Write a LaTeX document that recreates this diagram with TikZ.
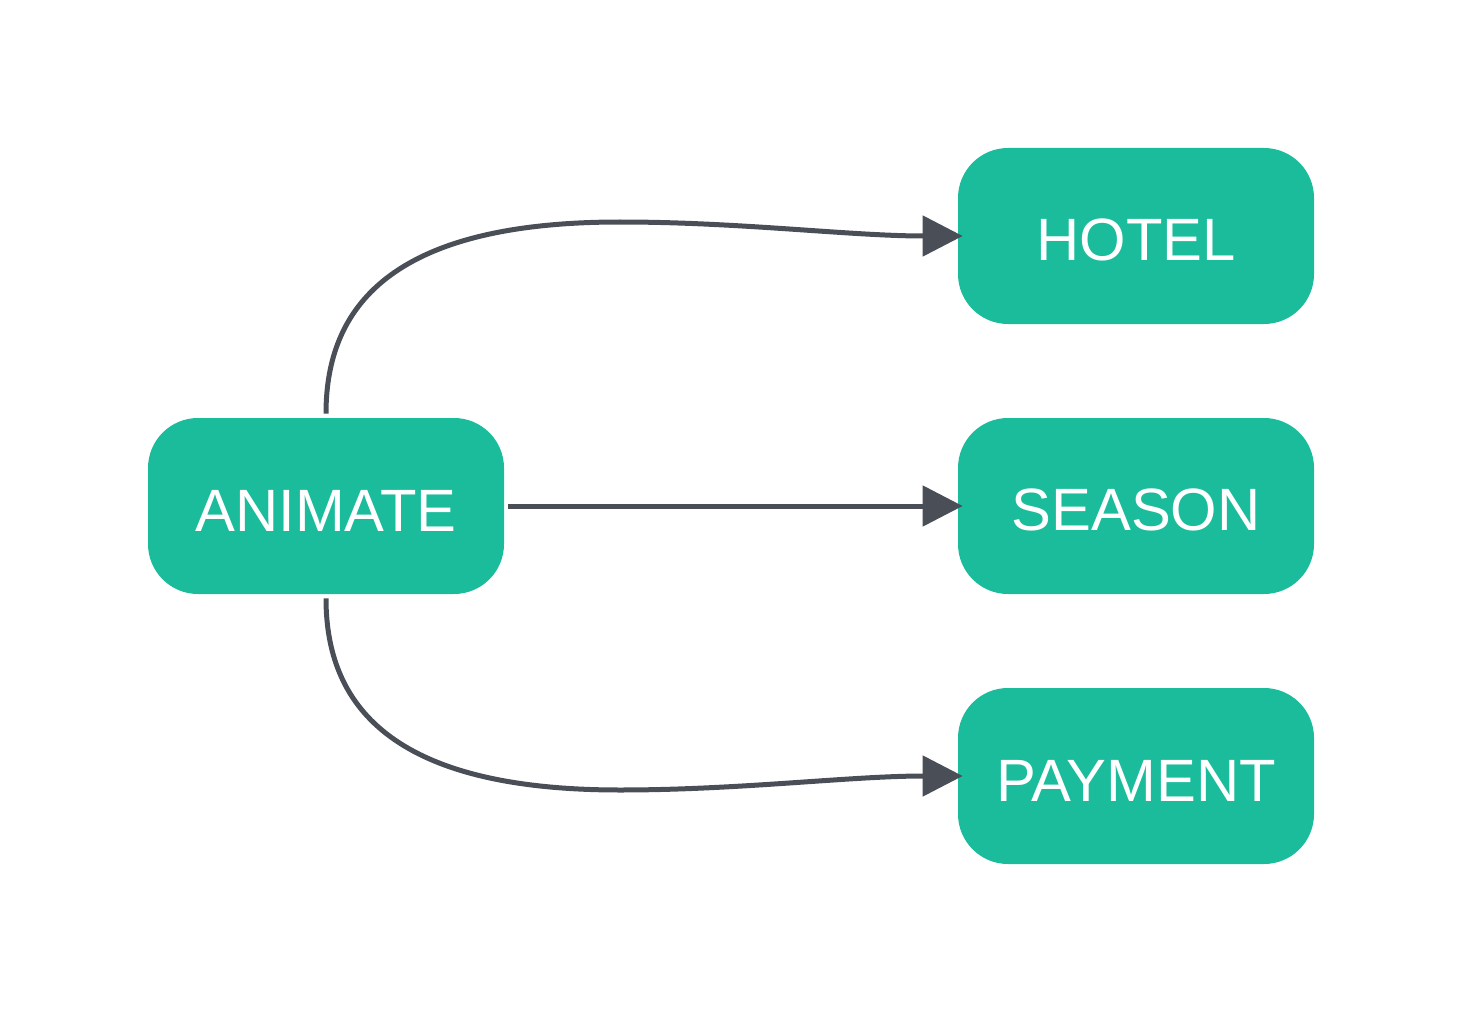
\documentclass[tikz,border=0pt]{standalone}
\usepackage{fontspec}
\setmainfont{Liberation Sans}
\usetikzlibrary{arrows.meta}
\definecolor{boxteal}{HTML}{1ABC9C}
\definecolor{edgegray}{HTML}{4A4F57}
\begin{document}
\begin{tikzpicture}[
  box/.style={fill=boxteal, rounded corners=1cm, minimum width=7.12cm, minimum height=3.52cm, text height=1.0cm, text=white, font=\fontsize{34}{40}\selectfont},
  link/.style={draw=edgegray, line width=0.1cm, -{Triangle[length=0.8cm, width=0.8cm]}, shorten <=0.08cm, shorten >=-0.1cm}
]
\useasboundingbox (0,0) rectangle (29.24,-20.24);
\node[box] (animate) at (6.52,-10.12) {ANIMATE};
\node[box] (hotel) at (22.72,-4.72) {HOTEL};
\node[box] (season) at (22.72,-10.12) {SEASON};
\node[box] (payment) at (22.72,-15.52) {PAYMENT};
\draw[link] (animate.north) .. controls (6.52,-6.0) and (8.0,-4.44) .. (12.4,-4.44) .. controls (14.8,-4.44) and (17.0,-4.72) .. (hotel.west);
\draw[link] (animate) -- (season);
\draw[link] (animate.south) .. controls (6.52,-14.24) and (8.0,-15.8) .. (12.4,-15.8) .. controls (14.8,-15.8) and (17.0,-15.52) .. (payment.west);
\end{tikzpicture}
\end{document}
